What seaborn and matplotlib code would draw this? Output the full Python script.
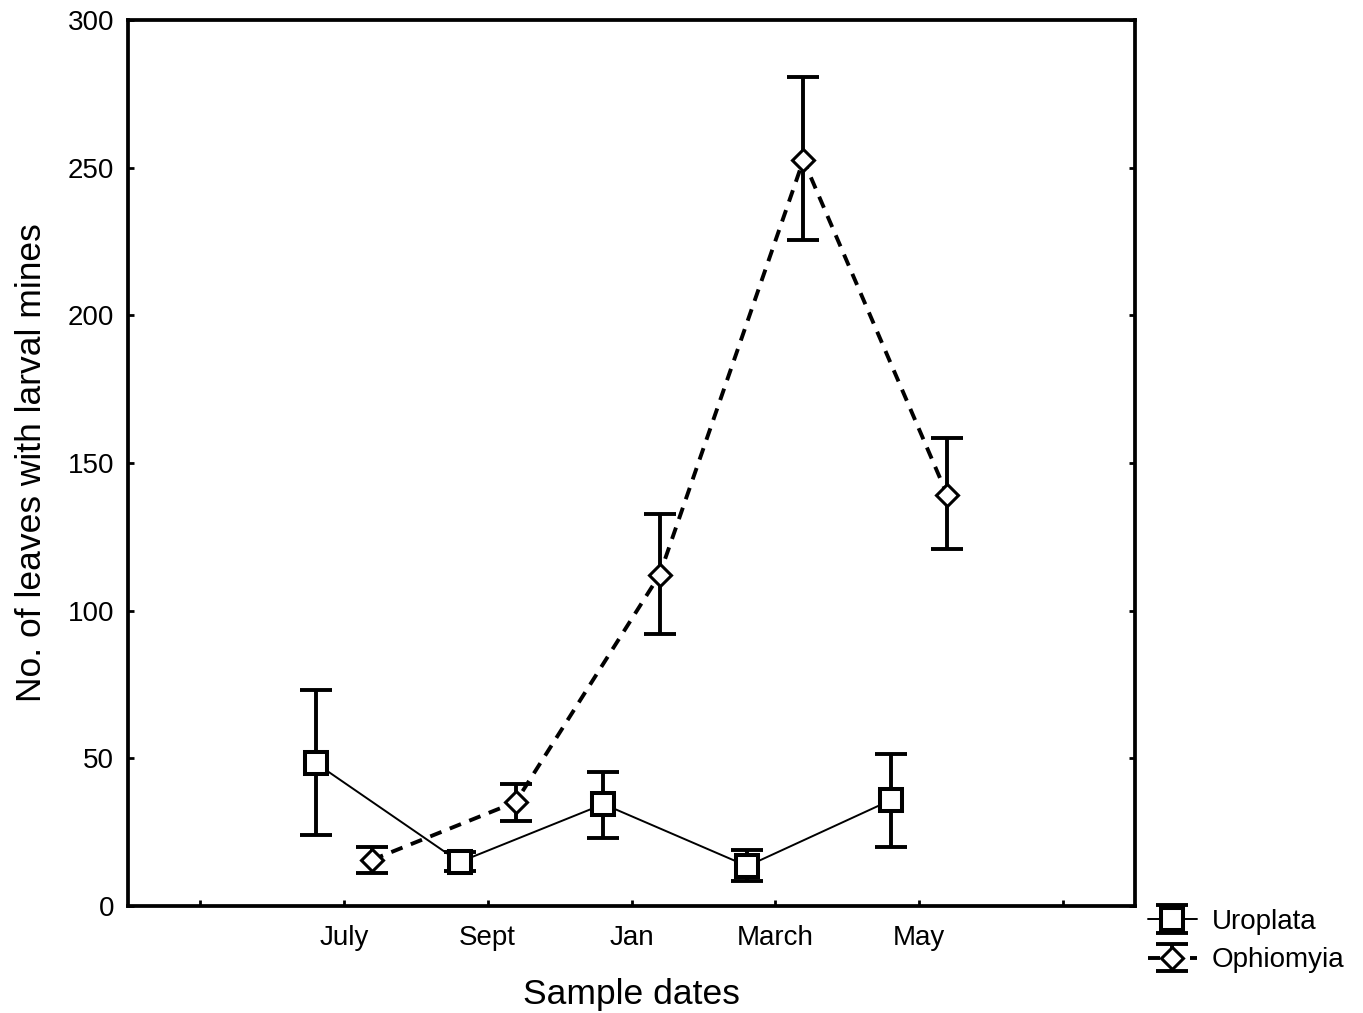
import numpy as np
import pandas as pd
import matplotlib
matplotlib.use("Agg")
import matplotlib.pyplot as plt
import seaborn as sns

# Sampling months and leaf-mine counts (mean with lower/upper interval bounds)
months = ["July", "Sept", "Jan", "March", "May"]
uro_mean = [48.4, 14.9, 34.5, 13.5, 35.9]
uro_low = [24.0, 11.9, 23.0, 8.5, 20.0]
uro_high = [73.1, 18.3, 45.4, 19.0, 51.5]
oph_mean = [15.6, 35.2, 112.1, 252.6, 139.2]
oph_low = [11.2, 28.8, 92.1, 225.5, 120.9]
oph_high = [20.0, 41.3, 132.7, 280.7, 158.5]
species = ["Uroplata", "Ophiomyia"]
y_ticks = [0, 50, 100, 150, 200, 250, 300]

sns.set_style("ticks")
plt.rcParams["font.family"] = ["Liberation Sans", "DejaVu Sans"]
plt.rcParams["text.color"] = "black"
plt.rcParams["axes.labelcolor"] = "black"

fig = plt.figure(figsize=(13.63, 10.13), dpi=100)
ax = fig.add_axes([128 / 1363, 1 - 906 / 1013, (1135 - 128) / 1363, (906 - 20) / 1013])

base = np.arange(1, len(months) + 1)
shift = 0.195
uro = pd.DataFrame({"pos": base - shift, "mean": uro_mean, "low": uro_low, "high": uro_high})
oph = pd.DataFrame({"pos": base + shift, "mean": oph_mean, "low": oph_low, "high": oph_high})

err_style = dict(fmt="none", ecolor="black", elinewidth=2.8, capsize=11.5,
                 capthick=2.8, zorder=1.5)
eb_u = ax.errorbar(uro["pos"], uro["mean"],
                   yerr=[uro["mean"] - uro["low"], uro["high"] - uro["mean"]], **err_style)
eb_o = ax.errorbar(oph["pos"], oph["mean"],
                   yerr=[oph["mean"] - oph["low"], oph["high"] - oph["mean"]], **err_style)

sns.lineplot(data=uro, x="pos", y="mean", ax=ax, color="black", lw=1.4, sort=False,
             marker="s", markersize=16.5, markerfacecolor="white",
             markeredgecolor="black", markeredgewidth=2.9)
line_u = ax.lines[-1]
sns.lineplot(data=oph, x="pos", y="mean", ax=ax, color="black", lw=2.8, sort=False,
             linestyle=(0, (3.1, 2.3)),
             marker="D", markersize=11, markerfacecolor="white",
             markeredgecolor="black", markeredgewidth=2.2)
line_o = ax.lines[-1]

ax.set_xlim(-0.5, 6.5)
ax.set_ylim(0, 300)
ax.set_xticks(np.arange(0, len(months) + 2))
ax.set_xticklabels([""] + months + [""])
ax.set_yticks(y_ticks)
ax.set_yticklabels([str(v) for v in y_ticks])

for side in ["left", "right", "top", "bottom"]:
    ax.spines[side].set_visible(True)
    ax.spines[side].set_linewidth(2.7)
    ax.spines[side].set_color("black")

ax.tick_params(axis="both", direction="in", length=4.5, width=2, color="black",
               labelsize=20, labelcolor="black")
ax.tick_params(axis="x", pad=14)
ax.tick_params(axis="y", pad=10, right=True)

ax.set_xlabel("Sample dates", fontsize=25.5, labelpad=19)
ax.set_ylabel("No. of leaves with larval mines", fontsize=25.5, labelpad=14)
ax.grid(False)

leg = fig.legend(handles=[(eb_u, line_u), (eb_o, line_o)], labels=species,
                 loc="center left", bbox_to_anchor=(1148 / 1363, 1 - 941 / 1013),
                 frameon=False, fontsize=20, handlelength=1.75, handletextpad=0.55,
                 labelspacing=0.45, borderpad=0, borderaxespad=0)

fig.savefig("out.png", dpi=100, facecolor="white")
